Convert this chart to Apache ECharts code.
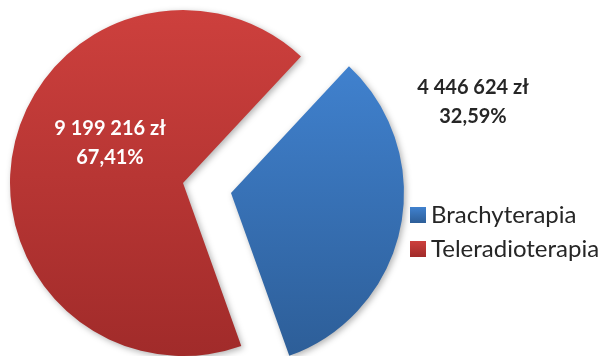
<!DOCTYPE html>
<html>
<head>
<meta charset="utf-8">
<script src="https://cdn.jsdelivr.net/npm/echarts@6/dist/echarts.min.js"></script>
<style>
  html, body { margin: 0; padding: 0; background: #fff; }
  #chart { width: 613px; height: 356px; }
</style>
</head>
<body>
<div id="chart"></div>
<script>
// dane
const names = ['Brachyterapia', 'Teleradioterapia']
const amounts = [4446624, 9199216]
const amountLabels = ['4 446 624 zł', '9 199 216 zł']
const percentLabels = ['32,59%', '67,41%']

// kolory (gradient góra -> dół)
const topColors = ['#4081ce', '#cd403d']
const bottomColors = ['#2d5e98', '#a12b2a']
const labelColors = ['#262626', '#ffffff']
// środki etykiet
const labelPos = [[473, 102], [110, 143]]

const center = [183, 183]
const radius = 173
const startAngle = 47
const explode = 49 // wysunięcie wycinka Brachyterapia

const chart = echarts.init(document.getElementById('chart'))

const grad = (i) => new echarts.graphic.LinearGradient(0, 0, 0, 1, [
    { offset: 0, color: topColors[i] },
    { offset: 1, color: bottomColors[i] },
])

// kierunek wysunięcia = środek kąta wycinka 0
const total = amounts.reduce((a, b) => a + b, 0)
const midAngle = (startAngle - (amounts[0] / total) * 180) * Math.PI / 180
const explodedCenter = [center[0] + explode * Math.cos(midAngle), center[1] - explode * Math.sin(midAngle)]

// jedna seria na wycinek, drugi wycinek przezroczysty
const makeSeries = (k, c) => ({
    type: 'pie',
    center: c,
    radius: radius,
    startAngle: startAngle,
    clockwise: true,
    silent: true,
    itemStyle: {
        shadowBlur: 6,
        shadowColor: 'rgba(0,0,0,0.3)',
        shadowOffsetX: 2,
        shadowOffsetY: 2,
    },
    labelLine: { show: false },
    labelLayout: () => ({ x: labelPos[k][0], y: labelPos[k][1], align: 'center', verticalAlign: 'middle' }),
    data: names.map((n, i) => ({
        name: n,
        value: amounts[i],
        itemStyle: { color: i === k ? grad(i) : 'rgba(0,0,0,0)' },
        label: {
            show: i === k,
            position: 'inside',
            fontFamily: 'Lato',
            fontWeight: 'bold',
            fontSize: 20,
            lineHeight: 29,
            align: 'center',
            color: labelColors[i],
            formatter: amountLabels[i] + '\n' + percentLabels[i],
        },
    })),
})

chart.setOption({
    animation: false,
    legend: {
        orient: 'vertical',
        left: 405,
        top: 198,
        itemWidth: 16,
        itemHeight: 16,
        itemGap: 10,
        icon: 'rect',
        selectedMode: false,
        textStyle: {
            fontFamily: 'Lato',
            fontSize: 24,
            color: '#262626',
        },
        data: names.map((n, i) => ({ name: n, itemStyle: { color: grad(i) } })),
    },
    series: [makeSeries(1, center), makeSeries(0, explodedCenter)],
})

window.addEventListener('resize', () => chart.resize())
</script>
</body>
</html>
